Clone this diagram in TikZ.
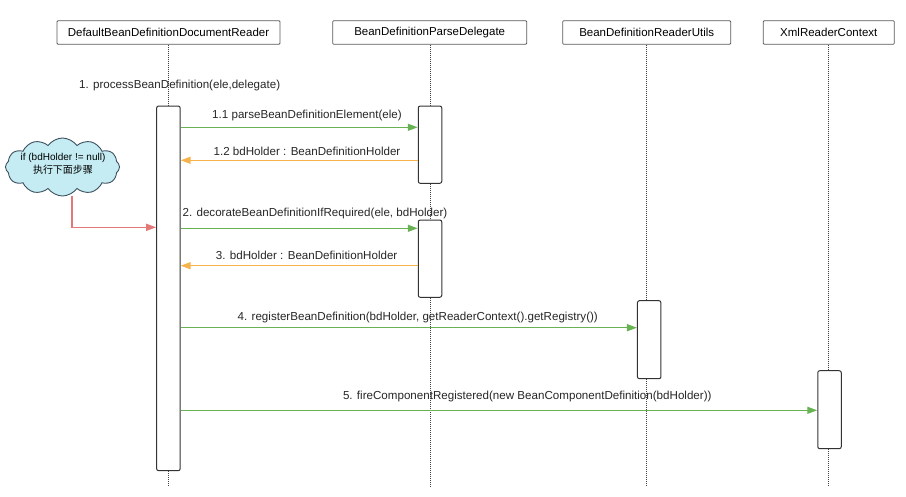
\documentclass[tikz,border=0pt]{standalone}
\usepackage{fontspec}
\setmainfont{Liberation Sans}
\newfontfamily\cjk{Noto Sans CJK SC}
\usetikzlibrary{arrows.meta,shapes.symbols}
\definecolor{msggreen}{RGB}{104,178,84}
\definecolor{msgorange}{RGB}{246,178,76}
\definecolor{arrred}{RGB}{226,120,120}
\definecolor{cloudfill}{RGB}{196,236,242}
\definecolor{cloudline}{RGB}{60,80,95}
\tikzset{
  hdr/.style={draw=black!65, line width=0.8pt, rounded corners=1pt, minimum height=23.6pt, inner sep=0pt, font=\fontsize{11.5}{13}\selectfont},
  act/.style={draw=black!80, line width=1pt, fill=white, rounded corners=2pt, minimum width=23.5pt, inner sep=0pt},
  life/.style={densely dotted, line width=1pt, black!75},
  msgG/.style={draw=msggreen, line width=1.4pt, -{Triangle[length=10pt,width=7pt]}},
  msgO/.style={draw=msgorange, line width=1.4pt, -{Triangle[length=10pt,width=7pt]}},
  lbl/.style={font=\fontsize{11.6}{13}\selectfont, text=black!85, inner sep=0pt},
}
\begin{document}
\begin{tikzpicture}[x=1pt,y=-1pt]
\useasboundingbox (0,0) rectangle (906,496);
% headers
\node[hdr, minimum width=223pt] (h1) at (168.5,32.5) {DefaultBeanDefinitionDocumentReader};
\node[hdr, minimum width=194pt] (h2) at (429.7,32.5) {BeanDefinitionParseDelegate};
\node[hdr, minimum width=168pt] (h3) at (646.7,32.5) {BeanDefinitionReaderUtils};
\node[hdr, minimum width=131pt] (h4) at (828.8,32.5) {XmlReaderContext};
% activations
\node[act, minimum height=364.7pt] (a1) at (168.4,288.35) {};
\node[act, minimum height=77.3pt] (a2) at (430,144.65) {};
\node[act, minimum height=77.3pt] (a3) at (430,258.65) {};
\node[act, minimum height=78pt] (a4) at (649.2,339.7) {};
\node[act, minimum height=78pt] (a5) at (829.5,409.7) {};
% lifeline ends
\coordinate (e1) at (168.4,487);
\coordinate (e2) at (430,487);
\coordinate (e3) at (646.7,487);
\coordinate (e4) at (828.8,487);
% lifelines
\draw[life] (h1.south -| a1) -- (a1.north);
\draw[life] (a1.south) -- (e1);
\draw[life] (h2.south -| a2) -- (a2.north);
\draw[life] (a2.south) -- (a3.north);
\draw[life] (a3.south) -- (e2);
\draw[life] (h3.south) -- (h3.south |- a4.north);
\draw[life] (h3.south |- a4.south) -- (e3);
\draw[life] (h4.south) -- (h4.south |- a5.north);
\draw[life] (h4.south |- a5.south) -- (e4);
% labels
\node[lbl] (l1) at (179.7,85.7) {1. processBeanDefinition(ele,delegate)};
\node[lbl] (l11) at (307,115) {1.1 parseBeanDefinitionElement(ele)};
\node[lbl] (l12) at (307,151.7) {1.2 bdHolder : BeanDefinitionHolder};
\node[lbl] (l2) at (315,213.3) {2. decorateBeanDefinitionIfRequired(ele, bdHolder)};
\node[lbl] (l3) at (306.7,255.3) {3. bdHolder : BeanDefinitionHolder};
\node[lbl] (l4) at (417.8,317.7) {4. registerBeanDefinition(bdHolder, getReaderContext().getRegistry())};
\node[lbl] (l5) at (527.3,396) {5. fireComponentRegistered(new BeanComponentDefinition(bdHolder))};
% messages
\draw[msgG] (a1.east |- 0,127.3) -- (a2.west |- 0,127.3);
\draw[msgO] (a2.west |- 0,160.3) -- (a1.east |- 0,160.3);
\draw[msgG] (a1.east |- 0,228.3) -- (a3.west |- 0,228.3);
\draw[msgO] (a3.west |- 0,265.7) -- (a1.east |- 0,265.7);
\draw[msgG] (a1.east |- 0,327.7) -- (a4.west |- 0,327.7);
\draw[msgG] (a1.east |- 0,410.3) -- (a5.west |- 0,410.3);
% cloud note
\node[cloud, cloud puffs=12, cloud puff arc=110, draw=cloudline, line width=0.9pt, fill=cloudfill, minimum width=114pt, minimum height=58pt, inner sep=0pt] (note) at (62.5,167) {};
\node[align=center, inner sep=0pt, font=\fontsize{10}{13.5}\selectfont] (notetxt) at (63,164) {if (bdHolder != null)\\{\cjk 执行下面步骤}};
\coordinate (nb) at (72,196);
\draw[draw=arrred, line width=1.4pt, -{Triangle[length=10pt,width=7pt]}] (nb) |- (a1.west |- 0,227.3);
\end{tikzpicture}
\end{document}
